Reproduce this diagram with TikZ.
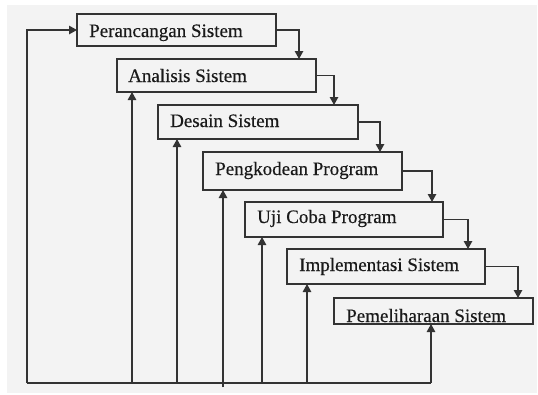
\documentclass[tikz,border=0pt]{standalone}
\usepackage{fontspec}
\setmainfont{Liberation Serif}
\usetikzlibrary{arrows.meta}
\definecolor{bg}{HTML}{F3F3F3}
\definecolor{ln}{HTML}{333333}
\definecolor{tx}{HTML}{1A1A1A}
\begin{document}
\begin{tikzpicture}[x=1pt,y=-1pt,
  box/.style={draw=ln, line width=1.3pt, fill=bg, inner sep=0pt, outer sep=0pt, minimum width=199pt},
  lbl/.style={anchor=base west, inner sep=0pt, text=tx, font=\fontsize{19}{22}\selectfont\addfontfeature{FakeBold=0.4}},
  arr/.style={draw=ln, line width=1.2pt, -{Triangle[length=8pt,width=8.5pt]}},
  ln/.style={draw=ln, line width=1.2pt}]
\useasboundingbox (0,0) rectangle (538,394);
\fill[white] (0,0) rectangle (538,394);
\fill[bg] (7,5) rectangle (537,393);
% boxes
\node[box, minimum height=32pt] (b1) at (176.5,30) {};
\node[box, minimum height=33pt] (b2) at (216.5,75.5) {};
\node[box, minimum width=200pt, minimum height=34pt] (b3) at (258,122) {};
\node[box, minimum height=38pt] (b4) at (302.5,171) {};
\node[box, minimum width=198pt, minimum height=35pt] (b5) at (344,219.5) {};
\node[box, minimum width=198pt, minimum height=35pt] (b6) at (386,266.5) {};
\node[box, minimum height=26pt] (b7) at (433.5,311) {};
% labels
\node[lbl] (t1) at (89,37) {Perancangan Sistem};
\node[lbl] (t2) at (128,82) {Analisis Sistem};
\node[lbl] (t3) at (170,127) {Desain Sistem};
\node[lbl] (t4) at (215,175) {Pengkodean Program};
\node[lbl] (t5) at (257,223) {Uji Coba Program};
\node[lbl] (t6) at (299,271) {Implementasi Sistem};
\begin{scope}
\clip (334,298) rectangle (533,324);
\node[lbl] (t7) at (346,322) {Pemeliharaan Sistem};
\end{scope}
\draw[ln] (b7.north west) rectangle (b7.south east);
% forward connectors
\coordinate (d1) at (299,0);
\coordinate (d2) at (334,0);
\coordinate (d3) at (380,0);
\coordinate (d4) at (432,0);
\coordinate (d5) at (468,0);
\coordinate (d6) at (518,0);
\draw[arr] (b1.east) -| (b2.north -| d1);
\draw[arr] (b2.east) -| (b3.north -| d2);
\draw[arr] (b3.east) -| (b4.north -| d3);
\draw[arr] (b4.east) -| (b5.north -| d4);
\draw[arr] (b5.east) -| (b6.north -| d5);
\draw[arr] (b6.east) -| (b7.north -| d6);
% feedback
\coordinate (f0) at (27,383);
\coordinate (f2) at (132,383);
\coordinate (f3) at (177,383);
\coordinate (f4) at (223,387);
\coordinate (f5) at (262,383);
\coordinate (f6) at (307,383);
\coordinate (f7) at (431,383);
\draw[ln] (f0) -- (f7);
\draw[arr] (f0) |- (b1.west);
\draw[arr] (f2) -- (b2.south -| f2);
\draw[arr] (f3) -- (b3.south -| f3);
\draw[arr] (f4) -- (b4.south -| f4);
\draw[arr] (f5) -- (b5.south -| f5);
\draw[arr] (f6) -- (b6.south -| f6);
\draw[arr] (f7) -- (b7.south -| f7);
\end{tikzpicture}
\end{document}
